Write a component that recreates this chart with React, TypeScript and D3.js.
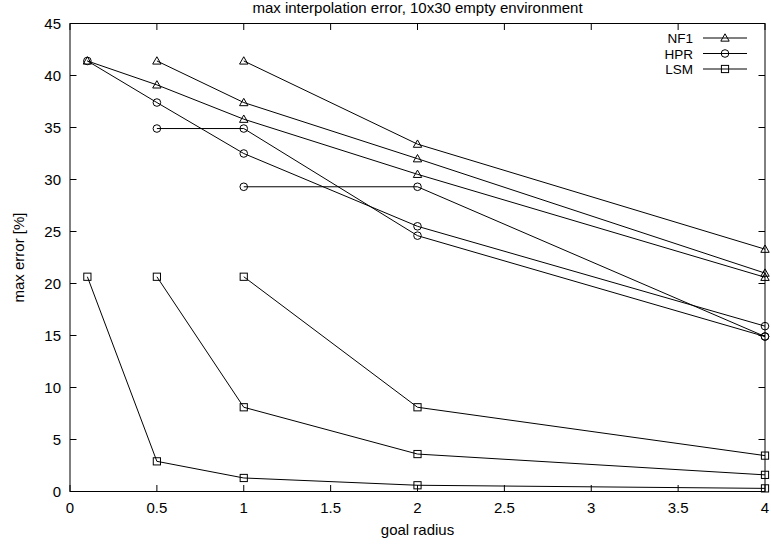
import React from 'react';
import * as d3 from 'd3';

// goal radius values where each run starts
const radiiFrom01 = [0.1, 0.5, 1, 2, 4];
const radiiFrom05 = [0.5, 1, 2, 4];
const radiiFrom1 = [1, 2, 4];

// max error [%] per run
const nf1A = [41.4, 39.1, 35.8, 30.5, 20.6];
const nf1B = [41.4, 37.4, 32.0, 21.0];
const nf1C = [41.4, 33.4, 23.3];
const hprA = [41.4, 37.4, 32.5, 25.5, 15.9];
const hprB = [34.9, 34.9, 24.6, 14.9];
const hprC = [29.3, 29.3, 14.9];
const lsmA = [20.65, 2.9, 1.3, 0.6, 0.3];
const lsmB = [20.65, 8.1, 3.6, 1.6];
const lsmC = [20.65, 8.1, 3.45];

const xTicks = [0, 0.5, 1, 1.5, 2, 2.5, 3, 3.5, 4];
const yTicks = [0, 5, 10, 15, 20, 25, 30, 35, 40, 45];
const legendNames = ['NF1', 'HPR', 'LSM'];

type Marker = 'triangle' | 'circle' | 'square';

const series: { name: string; marker: Marker; xs: number[]; ys: number[] }[] = [
  { name: 'NF1', marker: 'triangle', xs: radiiFrom01, ys: nf1A },
  { name: 'NF1', marker: 'triangle', xs: radiiFrom05, ys: nf1B },
  { name: 'NF1', marker: 'triangle', xs: radiiFrom1, ys: nf1C },
  { name: 'HPR', marker: 'circle', xs: radiiFrom01, ys: hprA },
  { name: 'HPR', marker: 'circle', xs: radiiFrom05, ys: hprB },
  { name: 'HPR', marker: 'circle', xs: radiiFrom1, ys: hprC },
  { name: 'LSM', marker: 'square', xs: radiiFrom01, ys: lsmA },
  { name: 'LSM', marker: 'square', xs: radiiFrom05, ys: lsmB },
  { name: 'LSM', marker: 'square', xs: radiiFrom1, ys: lsmC },
];

const markerOf: Record<string, Marker> = { NF1: 'triangle', HPR: 'circle', LSM: 'square' };

const W = 771;
const H = 544;
const margin = { top: 23.5, right: 6, bottom: 52.5, left: 70 };
const font = '"Liberation Sans", Arial, Helvetica, sans-serif';

function MarkerShape({ type, cx, cy }: { type: Marker; cx: number; cy: number }) {
  const common = { fill: 'none', stroke: '#000', strokeWidth: 1 };
  if (type === 'circle') return <circle cx={cx} cy={cy} r={3.8} {...common} />;
  if (type === 'square') return <rect x={cx - 3.6} y={cy - 3.6} width={7.2} height={7.2} {...common} />;
  const s = 4.2;
  return (
    <path
      d={`M${cx},${cy - s} L${cx + s},${cy + s * 0.75} L${cx - s},${cy + s * 0.75} Z`}
      {...common}
    />
  );
}

export default function App() {
  const x = d3.scaleLinear().domain([0, 4]).range([margin.left, W - margin.right]);
  const y = d3.scaleLinear().domain([0, 45]).range([H - margin.bottom, margin.top]);
  const line = d3
    .line<[number, number]>()
    .x((d) => x(d[0]))
    .y((d) => y(d[1]));

  const x0 = x.range()[0];
  const x1 = x.range()[1];
  const y0 = y.range()[0];
  const y1 = y.range()[1];
  const tick = 6.5;

  return (
    <svg
      width={W}
      height={H}
      style={{ position: 'absolute', left: 0, top: 0, background: '#fff' }}
      fontFamily={font}
    >
      <rect width={W} height={H} fill="#fff" />

      {/* ticks, mirrored on all sides */}
      <g stroke="#000" strokeWidth={1}>
        {xTicks.map((t) => (
          <g key={'x' + t}>
            <line x1={x(t)} x2={x(t)} y1={y0} y2={y0 - tick} />
            <line x1={x(t)} x2={x(t)} y1={y1} y2={y1 + tick} />
          </g>
        ))}
        {yTicks.map((t) => (
          <g key={'y' + t}>
            <line x1={x0} x2={x0 + tick} y1={y(t)} y2={y(t)} />
            <line x1={x1} x2={x1 - tick} y1={y(t)} y2={y(t)} />
          </g>
        ))}
      </g>

      <g fontSize={15} fill="#000">
        {xTicks.map((t) => (
          <text key={'xl' + t} x={x(t)} y={y0 + 21.5} textAnchor="middle">
            {t}
          </text>
        ))}
        {yTicks.map((t) => (
          <text key={'yl' + t} x={x0 - 9} y={y(t) + 5} textAnchor="end">
            {t}
          </text>
        ))}
      </g>

      {/* series */}
      {series.map((s, i) => {
        const pts = s.xs.map((v, j) => [v, s.ys[j]] as [number, number]);
        return (
          <g key={i}>
            <path d={line(pts) || ''} fill="none" stroke="#000" strokeWidth={1} />
            {pts.map((p, j) => (
              <MarkerShape key={j} type={s.marker} cx={x(p[0])} cy={y(p[1])} />
            ))}
          </g>
        );
      })}

      {/* border */}
      <rect x={x0} y={y1} width={x1 - x0} height={y0 - y1} fill="none" stroke="#000" strokeWidth={1} />

      {/* legend */}
      <g fontSize={13.5}>
        {legendNames.map((n, i) => {
          const ly = 38 + i * 15.5;
          return (
            <g key={n}>
              <text x={693} y={ly + 5} textAnchor="end">
                {n}
              </text>
              <line x1={703} x2={747} y1={ly} y2={ly} stroke="#000" />
              <MarkerShape type={markerOf[n]} cx={725} cy={ly} />
            </g>
          );
        })}
      </g>

      <text x={(x0 + x1) / 2} y={13} textAnchor="middle" fontSize={15}>
        max interpolation error, 10x30 empty environment
      </text>
      <text x={(x0 + x1) / 2} y={535} textAnchor="middle" fontSize={15}>
        goal radius
      </text>
      <text
        transform={`translate(24, ${(y0 + y1) / 2}) rotate(-90)`}
        textAnchor="middle"
        fontSize={15}
      >
        max error [%]
      </text>
    </svg>
  );
}
